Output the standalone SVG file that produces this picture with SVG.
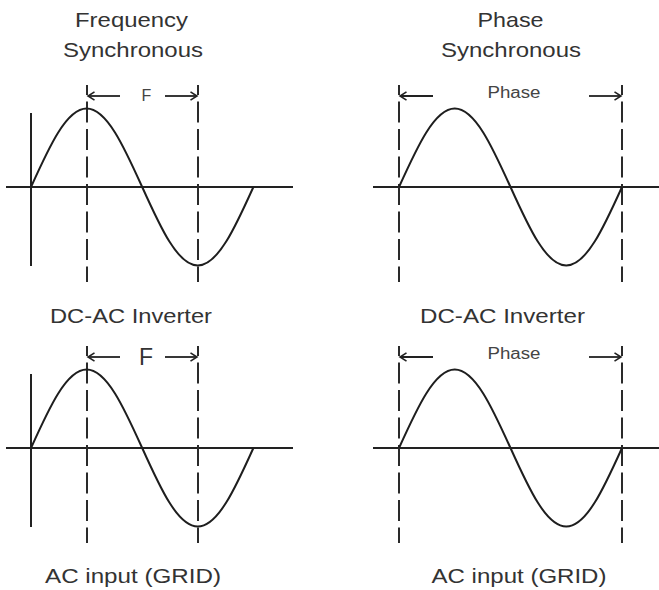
<svg xmlns="http://www.w3.org/2000/svg" width="659" height="590" viewBox="0 0 659 590">
  <style>
    .bg { fill: #ffffff; }
    .lbl { font-family: "Liberation Sans", Arial, sans-serif; font-size: 21px; fill: #333333; text-anchor: middle; }
    .sm { font-family: "Liberation Sans", Arial, sans-serif; font-size: 16px; fill: #444444; text-anchor: middle; }
    .big { font-family: "Liberation Sans", Arial, sans-serif; font-size: 23px; fill: #333333; text-anchor: middle; }
    .axis { stroke: #222222; stroke-width: 2; fill: none; }
    .wave { stroke: #1e1e1e; stroke-width: 2; fill: none; }
    .dash { stroke: #2a2a2a; stroke-width: 2; fill: none; stroke-dasharray: 21 6.5; stroke-dashoffset: 11; }
    .dim { stroke: #222222; stroke-width: 1.8; fill: none; marker-end: url(#ah); }
  </style>
  <defs>
    <marker id="ah" markerWidth="12" markerHeight="12" refX="8" refY="5" orient="auto" markerUnits="userSpaceOnUse">
      <path d="M1.5,0.8 L8,5 L1.5,9.2" fill="none" stroke="#222222" stroke-width="1.6"/>
    </marker>
    <g id="waveL">
      <line class="axis" x1="6" y1="187" x2="293" y2="187"/>
      <line class="axis" x1="31" y1="113" x2="31" y2="266"/>
      <line class="dash" x1="87" y1="85" x2="87" y2="282"/>
      <line class="dash" x1="198" y1="85" x2="198" y2="282"/>
      <path class="wave" d="M31,187 C49.13,146.78 66.48,108.5 86.6,108.5 C106.72,108.5 124.07,146.78 142.2,187 C160.33,227.22 177.68,265.5 197.8,265.5 C217.92,265.5 235.27,227.22 253.4,187"/>
    </g>
    <g id="waveR">
      <line class="axis" x1="373" y1="187" x2="659" y2="187"/>
      <line class="dash" x1="399" y1="85" x2="399" y2="282"/>
      <line class="dash" x1="622" y1="85" x2="622" y2="282"/>
      <path class="wave" d="M399,187 C417.18,146.78 434.57,108.5 454.75,108.5 C474.93,108.5 492.32,146.78 510.5,187 C528.68,227.22 546.07,265.5 566.25,265.5 C586.43,265.5 603.82,227.22 622,187"/>
    </g>
  </defs>
  <rect class="bg" x="0" y="0" width="659" height="590"/>

  <g id="freq-inverter">
    <text class="lbl" x="131.5" y="27" textLength="113" lengthAdjust="spacingAndGlyphs">Frequency</text>
    <text class="lbl" x="133" y="57" textLength="140" lengthAdjust="spacingAndGlyphs">Synchronous</text>
    <use href="#waveL"/>
    <text class="sm" x="146.5" y="101">F</text>
  </g>

  <g id="phase-inverter">
    <text class="lbl" x="510.5" y="27" textLength="66" lengthAdjust="spacingAndGlyphs">Phase</text>
    <text class="lbl" x="511" y="57" textLength="140" lengthAdjust="spacingAndGlyphs">Synchronous</text>
    <use href="#waveR"/>
    <text class="sm" x="514" y="97.5" textLength="53" lengthAdjust="spacingAndGlyphs">Phase</text>
  </g>

  <g id="freq-grid">
    <text class="lbl" x="131" y="323" textLength="162" lengthAdjust="spacingAndGlyphs">DC-AC Inverter</text>
    <use href="#waveL" transform="translate(0,261)"/>
    <text class="big" x="146" y="365">F</text>
    <text class="lbl" x="133" y="583" textLength="176" lengthAdjust="spacingAndGlyphs">AC input (GRID)</text>
  </g>

  <g id="phase-grid">
    <text class="lbl" x="502.5" y="323" textLength="165" lengthAdjust="spacingAndGlyphs">DC-AC Inverter</text>
    <use href="#waveR" transform="translate(0,261)"/>
    <text class="sm" x="514" y="358.5" textLength="53" lengthAdjust="spacingAndGlyphs">Phase</text>
    <text class="lbl" x="519" y="583" textLength="175" lengthAdjust="spacingAndGlyphs">AC input (GRID)</text>
  </g>

  <g id="connectors">
    <line class="dim" x1="120" y1="96" x2="88" y2="96"/>
    <line class="dim" x1="165" y1="96" x2="197" y2="96"/>
    <line class="dim" x1="433" y1="96" x2="400" y2="96"/>
    <line class="dim" x1="589" y1="96" x2="621" y2="96"/>
    <line class="dim" x1="120" y1="357" x2="88" y2="357"/>
    <line class="dim" x1="165" y1="357" x2="197" y2="357"/>
    <line class="dim" x1="433" y1="357" x2="400" y2="357"/>
    <line class="dim" x1="589" y1="357" x2="621" y2="357"/>
  </g>
</svg>
